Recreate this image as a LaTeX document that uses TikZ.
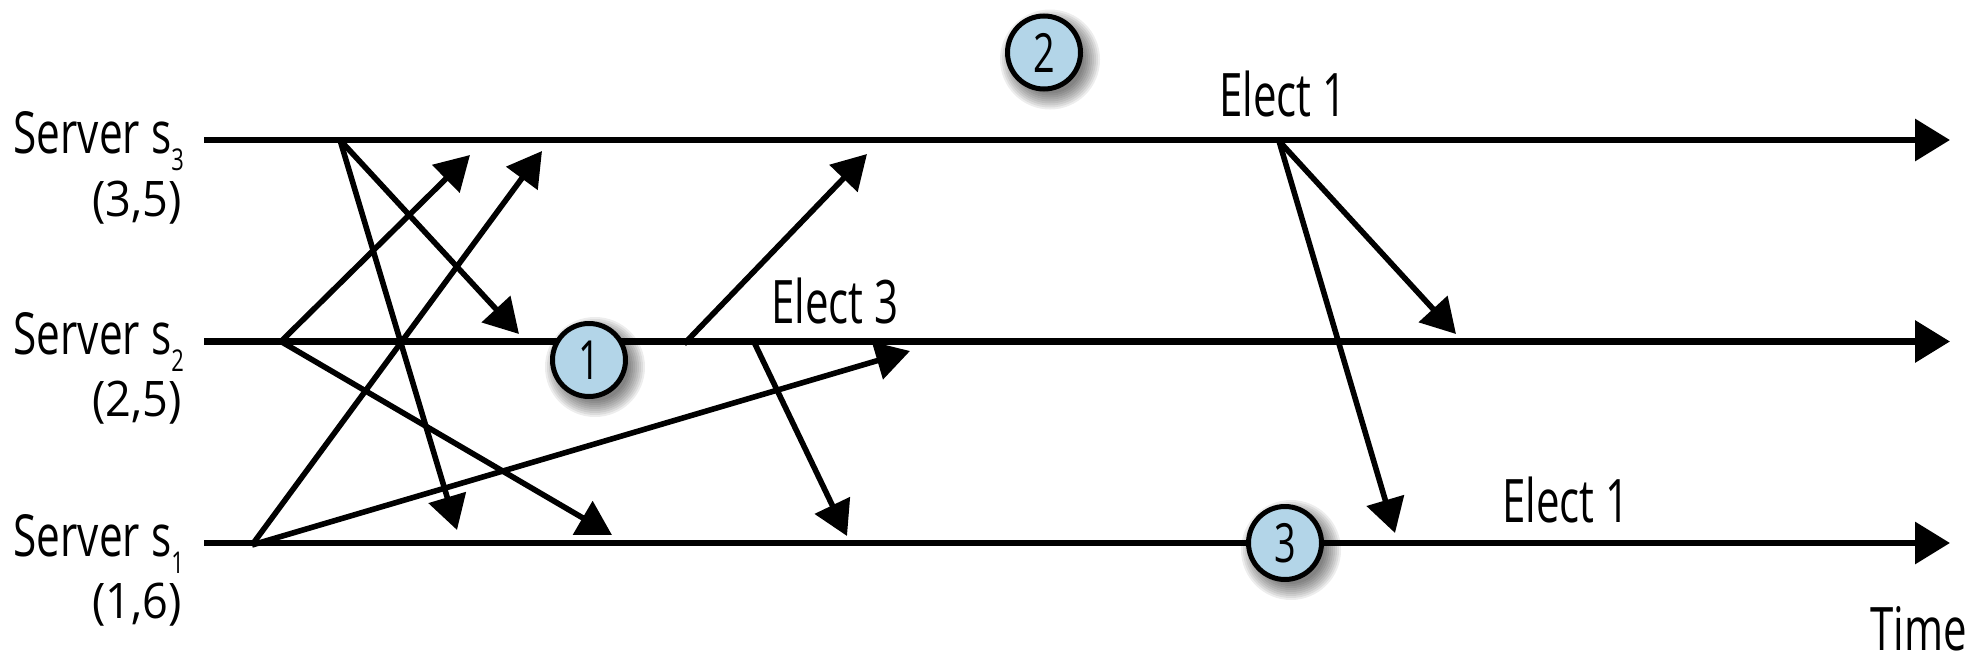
\documentclass[tikz,border=0pt]{standalone}
\usepackage{fontspec}
\usetikzlibrary{arrows.meta}
\newfontfamily\labfont[FakeStretch=0.7]{Open Sans}
\newfontfamily\srvfont[FakeStretch=0.73]{Open Sans}
\newfontfamily\tupfont[FakeStretch=0.92]{Open Sans}
\definecolor{badgeblue}{RGB}{179,213,232}
% server name with a lowered index
\newcommand\srvname[1]{Server s\raisebox{-17pt}{\fontsize{30}{30}\selectfont #1}}

\begin{document}
\begin{tikzpicture}[x=1pt,y=-1pt,
  timeline/.style={line width=6.5pt,-{Triangle[length=35pt,width=41pt]}},
  msg/.style={line width=5.6pt,-{Triangle[length=34pt,width=38pt]}},
  srvlabel/.style={inner sep=0pt,anchor=base east,font={\srvfont\fontsize{58}{64}\selectfont}},
  tuplabel/.style={inner sep=0pt,anchor=base east,font={\tupfont\fontsize{49}{54}\selectfont}},
  evlabel/.style={inner sep=0pt,anchor=base,font={\labfont\fontsize{60}{66}\selectfont}},
  badge/.style={circle,draw=black,line width=5pt,fill=badgeblue,minimum size=73pt,inner sep=0pt,
                font={\labfont\fontsize{54}{60}\selectfont}},
  shadowring/.style={fill=black,opacity=0.07}
]
\useasboundingbox (0,0) rectangle (1973,664);

% time lines of the three servers
\coordinate (s3start) at (204,140);  \coordinate (s3end) at (1950,140);
\coordinate (s2start) at (204,341.5);\coordinate (s2end) at (1950,341.5);
\coordinate (s1start) at (204,543);  \coordinate (s1end) at (1950,543);
\draw[timeline] (s3start) -- (s3end);
\draw[timeline] (s2start) -- (s2end);
\draw[timeline] (s1start) -- (s1end);

% server labels
\node[srvlabel] (lab3) at (184,153) {\srvname{3}};
\node[tuplabel] (tup3) at (182,216) {(3,5)};
\node[srvlabel] (lab2) at (184,354) {\srvname{2}};
\node[tuplabel] (tup2) at (182,416) {(2,5)};
\node[srvlabel] (lab1) at (184,556) {\srvname{1}};
\node[tuplabel] (tup1) at (182,618) {(1,6)};
\node[inner sep=0pt,anchor=base east,font={\labfont\fontsize{60}{66}\selectfont}] (time) at (1967,650) {Time};

% message send points and arrival points
\coordinate (a3) at (340,140);
\coordinate (a2) at (281,341.5);
\coordinate (a1) at (252,545);
\coordinate (b2) at (684,344);
\coordinate (c2) at (754,342);
\coordinate (d3) at (1279,141);

\coordinate (t32) at (519,334);
\coordinate (t31) at (457,530);
\coordinate (t23) at (470,155);
\coordinate (t21) at (612,535);
\coordinate (t13) at (542,151);
\coordinate (t12) at (910,351);
\coordinate (u23) at (867,154);
\coordinate (u21) at (847,536);
\coordinate (v32) at (1456,334);
\coordinate (v31) at (1395,533);

% first round of votes
\draw[msg] (a3) -- (t32);
\draw[msg] (a3) -- (t31);
\draw[msg] (a2) -- (t23);
\draw[msg] (a2) -- (t21);
\draw[msg] (a1) -- (t13);
\draw[msg] (a1) -- (t12);
% updated votes
\draw[msg] (b2) -- (u23);
\draw[msg] (c2) -- (u21);
\draw[msg] (d3) -- (v32);
\draw[msg] (d3) -- (v31);

% vote labels
\node[evlabel] (el3) at (835,323) {Elect 3};
\node[evlabel] (el1top) at (1283,116) {Elect 1};
\node[evlabel] (el1bot) at (1566,522) {Elect 1};

% numbered markers with soft shadows
\coordinate (p1) at (589,360);
\coordinate (p2) at (1044,52.5);
\coordinate (p3) at (1285,543);
\foreach \p in {p1,p2,p3}{
  \foreach \r in {34,36,...,50}{
    \fill[shadowring] ([shift={(6,7)}]\p) circle (\r pt);
  }
}
\node[badge] (m1) at (p1) {1};
\node[badge] (m2) at (p2) {2};
\node[badge] (m3) at (p3) {3};
\end{tikzpicture}
\end{document}
